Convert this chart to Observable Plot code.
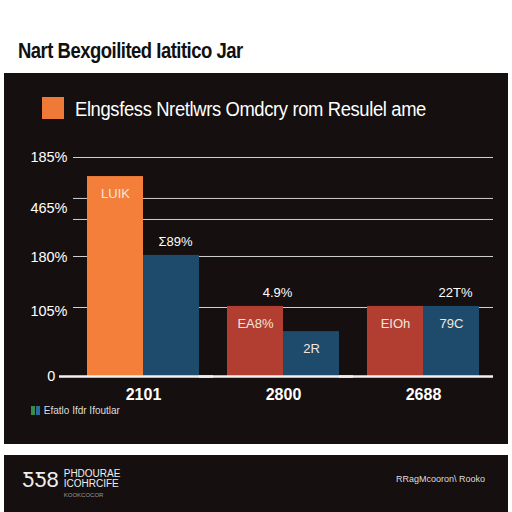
<!DOCTYPE html>
<html>
<head>
<meta charset="utf-8">
<script src="https://cdn.jsdelivr.net/npm/d3@7"></script>
<script src="https://cdn.jsdelivr.net/npm/@observablehq/plot@0.6"></script>
<style>
  html, body { margin:0; padding:0; background:#fff; width:512px; height:512px; overflow:hidden; }
  body { position:relative; font-family:"Liberation Sans",Arial,sans-serif; }
  #title { position:absolute; left:18px; top:38px; font-weight:bold; font-size:22px; color:#111; letter-spacing:-0.6px; white-space:nowrap; transform-origin:0 0; transform:scaleX(0.84); }
  #panel { position:absolute; left:4px; top:73px; width:504px; height:371px; background:#150f0f; }
  #swatch { position:absolute; left:42px; top:97px; width:22px; height:22px; background:#ef7a38; }
  #legtext { position:absolute; left:75px; top:98px; font-size:20px; color:#fff; white-space:nowrap; letter-spacing:-0.4px; transform-origin:0 0; transform:scaleX(0.92); }
  #chart { position:absolute; left:4px; top:130px; }
  #small { position:absolute; left:31px; top:405px; font-size:10px; color:#ddd; white-space:nowrap; }
  #small i { display:inline-block; width:4px; height:9px; margin-right:1px; vertical-align:-1px; }
  #footer { position:absolute; left:4px; top:455px; width:504px; height:57px; background:#150f0f; }
  #fl { position:absolute; left:18px; top:14px; color:#eee; font-size:10px; line-height:10px; white-space:nowrap; }
  #fl b { font-size:22px; font-weight:normal; float:left; margin-right:5px; line-height:22px; }
  #fr { position:absolute; left:392px; top:19px; color:#ddd; font-size:9px; white-space:nowrap; }
  svg g[aria-label^="fx-axis"] text { font-size:16px; font-weight:bold; }
  svg g[aria-label^="y-axis"] text { font-size:14.5px; }
</style>
</head>
<body>
<div id="title"></div>
<div id="panel"></div>
<div id="swatch"></div>
<div id="legtext"></div>
<div id="chart"></div>
<div id="small"><i style="background:#3a8a4a"></i><i style="background:#2d6aa0"></i> <span id="smalltext"></span></div>
<div id="footer">
  <div id="fl"><b>ƼƼ8</b>PHDOURAE<br>ICOHRCIFE<br><span style="font-size:6px;color:#999">KOOKCOCOR</span></div>
  <div id="fr"></div>
</div>
<script>
const titleText = "Nart Bexgoilited Iatitico Jar";
const legendText = "Elngsfess Nretlwrs Omdcry rom Resulel ame";
const smallText = "Efatlo Ifdr Ifoutlar";
const footerRight = "RRagMcooron\\ Rooko";

const years = ["2101", "2800", "2688"];
const seriesA = [91.3, 32, 32];
const seriesB = [55.3, 20.5, 32];
const insideA = ["LUIK", "EA8%", "EIOh"];
const insideB = ["", "2R", "79C"];
const aboveA = ["", "4.9%", ""];
const aboveB = ["Σ89%", "", "22T%"];

const gridVals = [100, 81.3, 71.7, 54.8, 31.5];
const tickVals = [0, 29.7, 54.3, 76.7, 100];
const tickLabels = ["0\u00a0\u00a0\u00a0", "105%", "180%", "465%", "185%"];

document.getElementById("title").textContent = titleText;
document.getElementById("legtext").textContent = legendText;
document.getElementById("smalltext").textContent = smallText;
document.getElementById("fr").textContent = footerRight;

const bars = [];
years.forEach((y, i) => {
  bars.push({year: y, series: "a", value: seriesA[i], inside: insideA[i], above: aboveA[i]});
  bars.push({year: y, series: "b", value: seriesB[i], inside: insideB[i], above: aboveB[i]});
});
const barsA = bars.filter(d => d.series === "a");
const barsB = bars.filter(d => d.series === "b");

const fillOf = d => d.series === "b" ? "#1e4b6c" : (d.year === years[0] ? "#f47f3a" : "#b23e32");

const chart = Plot.plot({
  width: 504,
  height: 300,
  marginTop: 27,
  marginBottom: 54,
  marginLeft: 68,
  marginRight: 14,
  style: {background: "transparent", color: "#fff", fontFamily: "'Liberation Sans',Arial,sans-serif", fontSize: "14px"},
  fx: {domain: years, padding: 0, axis: "bottom", label: null, tickSize: 0, tickPadding: 12},
  x: {domain: ["a", "b"], paddingInner: 0, paddingOuter: 0.25, axis: null},
  y: {domain: [0, 100], ticks: tickVals, tickFormat: (d, i) => tickLabels[i], tickSize: 0, tickPadding: 6, label: null},
  marks: [
    Plot.ruleY(gridVals, {stroke: "#d0d0d0", strokeWidth: 1}),
    Plot.barY(bars, {fx: "year", x: "series", y: "value", fill: fillOf}),
    Plot.ruleY([0], {stroke: "#f2f2f2", strokeWidth: 2.5, insetLeft: -14}),
    Plot.text(bars, {fx: "year", x: "series", y: "value", text: "inside", dy: 17, fill: "#f4e6dc", fontSize: 13}),
    Plot.text(barsA, {fx: "year", x: "series", y: "value", text: "above", dy: -14, dx: 22, fill: "#fff", fontSize: 13}),
    Plot.text(barsB, {fx: "year", x: "series", y: "value", text: "above", dy: -14, dx: 4, fill: "#fff", fontSize: 13})
  ]
});
document.getElementById("chart").appendChild(chart);
</script>
</body>
</html>
